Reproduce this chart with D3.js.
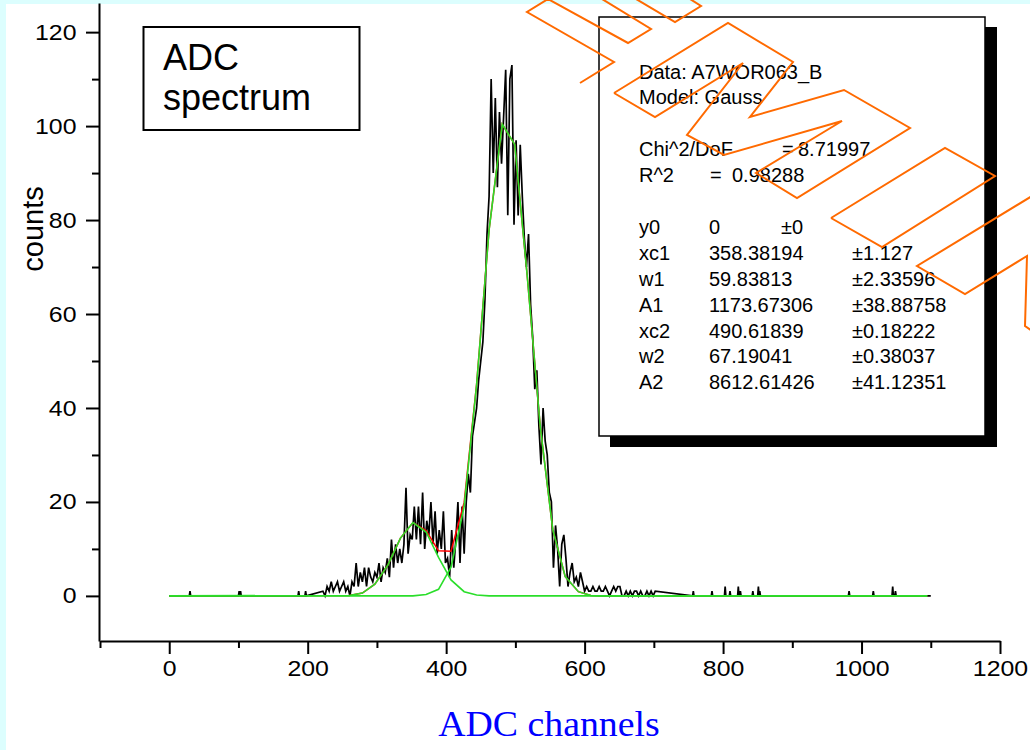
<!DOCTYPE html>
<html><head><meta charset="utf-8">
<script src="https://cdn.jsdelivr.net/npm/d3@7"></script>
<style>
html,body{margin:0;padding:0;background:#dcfefe;}
svg{display:block;}
</style></head><body>
<svg id="chart" width="1030" height="750"></svg>
<script>
// ---------------- data ----------------
const xTickVals = [0, 200, 400, 600, 800, 1000, 1200];
const xMinorVals = [-100, 100, 300, 500, 700, 900, 1100];
const yTickVals = [0, 20, 40, 60, 80, 100, 120];
const yMinorVals = [10, 30, 50, 70, 90, 110];

// measured spectrum: counts every 3 channels starting at channel 222
const spectrumStart = 222;
const spectrumStep = 3;
const spectrumCounts = [
  1,0,2,1,3,1,2,3,1,2,
  3,1,2,0,3,2,7,2,5,3,
  6,2,6,4,3,5,4,7,3,6,
  5,8,4,12,6,11,7,10,7,11,
  23,9,13,12,19,12,19,11,22,10,
  16,13,20,11,18,9,14,10,18,7,
  8,4,14,6,12,20,7,19,9,20,
  26,22,34,37,40,46,50,54,63,77,
  85,110,90,106,87,103,92,102,112,81,
  110,113,79,97,81,96,85,76,70,77,
  62,55,44,48,36,28,40,33,30,22,
  20,6,15,10,2,11,13,8,2,5,
  7,3,4,2,5,3,1,2,1,1,
  2,1,1,2,1,1,2,1,0,1,
  2,1,2,2,0,0,1,0,1,0,
  1,1,0,1,0,0,1,0,1,0,
  1
];
// isolated single-channel hits outside the dense region
const isolatedChannels = [30, 101, 103, 187, 197, 757, 784, 803, 810, 822, 825, 843, 851, 853, 982, 1017, 1045, 1049];
const isolatedCounts   = [1, 1, 1, 1, 1, 1, 1, 2, 1, 2, 1, 1, 2, 1, 1, 1, 2, 1];
const channelMax = 1100;

// fit curve vertices (Gauss components and their sum)
const fitChannels = [0, 260, 279, 297, 316, 334, 352, 371, 389, 407, 426, 444, 462, 481, 499, 517, 536, 554, 572, 591, 609, 627, 1095];
const fitPeak1    = [0, 0.1, 0.6, 2.5, 6.6, 12.3, 15.6, 13.6, 8.2, 3.4, 0.9, 0.2, 0, 0, 0, 0, 0, 0, 0, 0, 0, 0, 0];
const fitPeak2    = [0, 0, 0, 0, 0, 0, 0, 0.3, 1.4, 6.1, 19.0, 44.9, 77.9, 100.4, 96.1, 68.3, 35.9, 14.1, 4.1, 0.9, 0.1, 0, 0];
const fitSum      = [0, 0.1, 0.6, 2.5, 6.6, 12.3, 15.6, 13.9, 9.6, 9.5, 19.9, 45.1, 77.9, 100.4, 96.1, 68.3, 35.9, 14.1, 4.1, 0.9, 0.1, 0, 0];

// fit report text
const reportHeader = ["Data: A7WOR063_B", "Model: Gauss"];
const chiLabel = "Chi^2/DoF", chiValue = "8.71997";
const r2Label = "R^2", r2Value = "0.98288";
const paramNames  = ["y0", "xc1", "w1", "A1", "xc2", "w2", "A2"];
const paramValues = ["0", "358.38194", "59.83813", "1173.67306", "490.61839", "67.19041", "8612.61426"];
const paramErrors = ["\u00b10", "\u00b11.127", "\u00b12.33596", "\u00b138.88758", "\u00b10.18222", "\u00b10.38037", "\u00b141.12351"];

const titleLines = ["ADC", "spectrum"];
const xTitle = "ADC channels";
const yTitle = "counts";

// watermark outline (decoration)
const watermark = [
  [[580,83],[614,62],[527,12],[548,-1],[628,43],[651,29],[602,-1]],
  [[636,-1],[675,22],[701,6],[690,-1]],
  [[614,93],[728,23],[793,62],[750,117],[844,90],[910,128],[797,198],[756,173],[842,121],[724,155],[687,135],[743,63],[655,117],[614,93]],
  [[831,218],[945,148],[995,176],[882,247],[831,218]],
  [[1032,196],[917,266],[965,294],[1027,256],[1025,326],[1032,331]]
];

// ---------------- build series ----------------
const spectrum = [[0,0]];
isolatedChannels.forEach((c,i) => {
  if (c < spectrumStart) spectrum.push([c-1,0],[c,isolatedCounts[i]],[c+1,0]);
});
spectrumCounts.forEach((v,i) => spectrum.push([spectrumStart + i*spectrumStep, v]));
isolatedChannels.forEach((c,i) => {
  if (c > spectrumStart + spectrumStep*(spectrumCounts.length-1)) spectrum.push([c-1,0],[c,isolatedCounts[i]],[c+1,0]);
});
spectrum.push([channelMax,0]);

// ---------------- drawing ----------------
const svg = d3.select("#chart");
const FONT = "'Liberation Sans', Arial, Helvetica, sans-serif";
svg.append("rect").attr("x",0).attr("y",0).attr("width",1030).attr("height",750).attr("fill","#dcfefe");
svg.append("rect").attr("x",6).attr("y",4).attr("width",1024).attr("height",746).attr("fill","#ffffff");

const x = d3.scaleLinear().domain([-100,1200]).range([100,1000]);
const y = d3.scaleLinear().domain([-9.6,126.2]).range([641,3]);
const line = d3.line().x(d => x(d[0])).y(d => y(d[1]));

const plot = svg.append("g");
plot.append("path").datum(spectrum).attr("d", line)
  .attr("fill","none").attr("stroke","#000").attr("stroke-width",1.7).attr("stroke-linejoin","miter");
const fitLine = arr => fitChannels.map((c,i) => [c, arr[i]]);
plot.append("path").datum(fitLine(fitSum)).attr("d", line)
  .attr("fill","none").attr("stroke","#ff0000").attr("stroke-width",1.5);
[fitPeak1, fitPeak2].forEach(arr => {
  plot.append("path").datum(fitLine(arr)).attr("d", line)
    .attr("fill","none").attr("stroke","#2ade2a").attr("stroke-width",1.6);
});

// axes
function styleAxis(g){
  g.select(".domain").attr("stroke","#000").attr("stroke-width",2);
  g.selectAll(".tick line").attr("stroke","#000").attr("stroke-width",2);
}
function stretch(sel, k){
  sel.each(function(){
    const len = this.getComputedTextLength();
    d3.select(this).attr("textLength", len*k).attr("lengthAdjust","spacingAndGlyphs");
  });
}
const gxMinor = svg.append("g").attr("transform","translate(0,641)")
  .call(d3.axisBottom(x).tickValues(xMinorVals).tickSize(7).tickSizeOuter(0).tickFormat(""));
gxMinor.select(".domain").remove(); styleAxis(gxMinor);
const gx = svg.append("g").attr("transform","translate(0,641)")
  .call(d3.axisBottom(x).tickValues(xTickVals).tickSize(13).tickSizeOuter(0).tickFormat(d3.format("d")));
styleAxis(gx);
gx.selectAll("text").attr("y",35).attr("dy",0).attr("fill","#000")
  .style("font-family",FONT).style("font-size","22px");
stretch(gx.selectAll("text"), 1.13);

const gyMinor = svg.append("g").attr("transform","translate(99,0)")
  .call(d3.axisLeft(y).tickValues(yMinorVals).tickSize(7).tickSizeOuter(0).tickFormat(""));
gyMinor.select(".domain").remove(); styleAxis(gyMinor);
const gy = svg.append("g").attr("transform","translate(99,0)")
  .call(d3.axisLeft(y).tickValues(yTickVals).tickSize(13).tickSizeOuter(0).tickFormat(d3.format("d")));
styleAxis(gy);
gy.selectAll("text").attr("x",-22.5).attr("fill","#000")
  .style("font-family",FONT).style("font-size","22px");
stretch(gy.selectAll("text"), 1.13);

// axis titles
const xt = svg.append("text").attr("x",549).attr("y",736).attr("text-anchor","middle")
  .attr("fill","#0000ff").style("font-family","'Liberation Serif', 'Times New Roman', serif")
  .style("font-size","35px").text(xTitle);
stretch(xt, 1.08);
svg.append("text").attr("transform","translate(43,229) rotate(-90)").attr("text-anchor","middle")
  .attr("fill","#000").style("font-family",FONT).style("font-size","29px").text(yTitle);

// title box
svg.append("rect").attr("x",143.5).attr("y",27).attr("width",216).attr("height",103)
  .attr("fill","#fff").attr("stroke","#000").attr("stroke-width",2);
titleLines.forEach((t,i) => {
  svg.append("text").attr("x",163).attr("y",69.5 + i*40).attr("fill","#000")
    .style("font-family",FONT).style("font-size","36px").text(t);
});

// fit report box
svg.append("rect").attr("x",610).attr("y",27).attr("width",387).attr("height",420).attr("fill","#000");
svg.append("rect").attr("x",599).attr("y",17).attr("width",386).attr("height",419)
  .attr("fill","#fff").attr("stroke","#000").attr("stroke-width",1.5);
const rep = svg.append("g").style("font-family",FONT).style("font-size","20px").attr("fill","#000");
const lh = 25.9, base = 78.5;
reportHeader.forEach((t,i) => rep.append("text").attr("x",639).attr("y",base + i*lh).text(t));
rep.append("text").attr("x",639).attr("y",base + 3*lh).text(chiLabel);
rep.append("text").attr("x",782).attr("y",base + 3*lh).text("=");
rep.append("text").attr("x",798).attr("y",base + 3*lh).text(chiValue);
rep.append("text").attr("x",639).attr("y",base + 4*lh).text(r2Label);
rep.append("text").attr("x",710).attr("y",base + 4*lh).text("=");
rep.append("text").attr("x",732).attr("y",base + 4*lh).text(r2Value);
paramNames.forEach((n,i) => {
  const yy = base + (6+i)*lh;
  rep.append("text").attr("x",639).attr("y",yy).text(n);
  rep.append("text").attr("x",709).attr("y",yy).text(paramValues[i]);
  rep.append("text").attr("x", i === 0 ? 781 : 852).attr("y",yy).text(paramErrors[i]);
});

// watermark
const wl = d3.line();
watermark.forEach(p => {
  svg.append("path").attr("d", wl(p)).attr("fill","none")
    .attr("stroke","#ff6a00").attr("stroke-width",2).attr("stroke-linejoin","miter");
});
</script></body></html>
